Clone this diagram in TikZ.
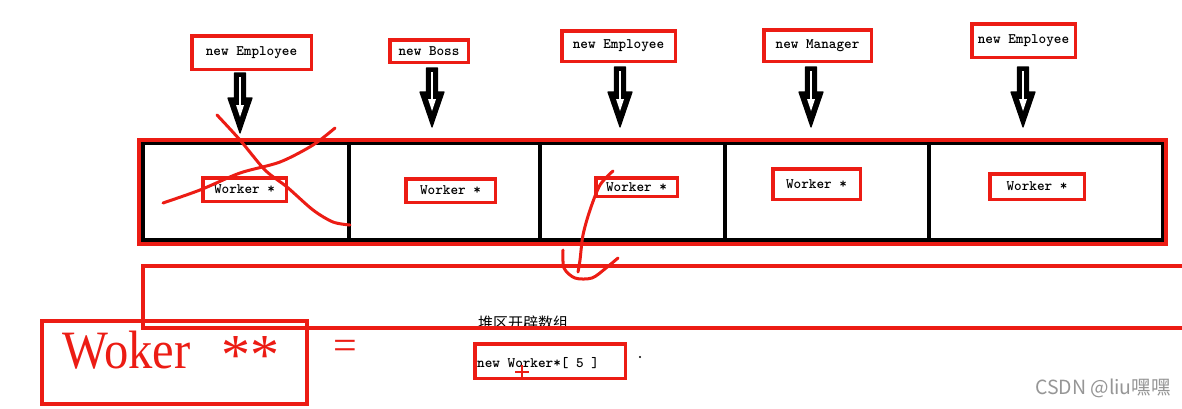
\documentclass[tikz,border=0pt]{standalone}
\usepackage{fontspec}
\setmainfont{Liberation Serif}
\newfontfamily\narrowserif[FakeStretch=0.9]{Liberation Serif}
\newfontfamily\cjkfont{Noto Sans CJK SC}
\usetikzlibrary{calc}
\definecolor{pred}{RGB}{236,28,20}
\definecolor{wmgray}{RGB}{150,150,150}
\newcommand\hollowarrow[2]{%
  \path[arrowbody] let \p1=(#1), \p2=(#2) in
    (\x1-5.5pt,\y1) -- (\x1+5.5pt,\y1) -- (\x1+5.5pt,\y2+35pt) -- (\x1+12pt,\y2+35pt)
    -- (\x1,\y2) -- (\x1-12pt,\y2+35pt) -- (\x1-5.5pt,\y2+35pt) -- cycle;
  \draw[white, line width=1.4pt] let \p1=(#1), \p2=(#2) in (\x1,\y1-4pt) -- (\x1,\y2+27pt);
  \fill[white] let \p1=(#1), \p2=(#2) in
    (\x1-4pt,\y2+28pt) -- (\x1+4pt,\y2+28pt) -- (\x1,\y2+16pt) -- cycle;
}
\begin{document}
\begin{tikzpicture}[x=1pt,y=-1pt,
  codefont/.style={font=\ttfamily\bfseries\fontsize{14.5}{16}\selectfont},
  redbox/.style={draw=pred, line width=3.5pt, inner sep=0pt, fill=white, codefont},
  freehand/.style={draw=pred, line width=3pt, line cap=round, line join=round},
  arrowbody/.style={fill=black, draw=black, line width=1.2pt, line join=round},
  cellline/.style={draw=black, line width=3.5pt}]
\useasboundingbox (0,0) rectangle (1182,408);
\fill[white] (0,0) rectangle (1182,408);

% array of pointers
\draw[cellline] (143,143.5) rectangle (1162.5,240);
\draw[cellline] (349,143) -- (349,240);
\draw[cellline] (540,143) -- (540,240);
\draw[cellline] (725,143) -- (725,240);
\draw[cellline] (929,143) -- (929,240);
\draw[draw=pred, line width=4pt] (138.5,139.5) rectangle (1166,244);

% top boxes
\node[redbox, minimum width=119.5pt, minimum height=33.5pt] (b1) at (251.5,52.5) {new Employee};
\node[redbox, minimum width=78.5pt, minimum height=22.5pt] (b2) at (429,51) {new Boss};
\node[redbox, minimum width=113.5pt, minimum height=30.5pt] (b3) at (618.5,46) {new Employee};
\node[redbox, minimum width=107.5pt, minimum height=31.5pt] (b4) at (817.5,45.5) {new Manager};
\node[redbox, minimum width=103.5pt, minimum height=33.5pt] (b5) at (1023.5,40.5) {new Employee};

% worker boxes
\node[redbox, minimum width=83.5pt, minimum height=23.5pt] (w1) at (244.5,189.5) {Worker *};
\node[redbox, minimum width=89.5pt, minimum height=23.5pt] (w2) at (450.5,190.5) {Worker *};
\node[redbox, minimum width=81.5pt, minimum height=18.5pt] (w3) at (636.5,187) {Worker *};
\node[redbox, minimum width=87.5pt, minimum height=30.5pt] (w4) at (816.5,184) {Worker *};
\node[redbox, minimum width=94.5pt, minimum height=25.5pt] (w5) at (1037,186.5) {Worker *};

% hollow arrows
\coordinate (a1s) at (240,73);  \coordinate (a1e) at (240,133);
\coordinate (a2s) at (432,68);  \coordinate (a2e) at (432,127);
\coordinate (a3s) at (620,67);  \coordinate (a3e) at (620,127);
\coordinate (a4s) at (811,67);  \coordinate (a4e) at (811,127);
\coordinate (a5s) at (1023,67); \coordinate (a5e) at (1023,127);
\hollowarrow{a1s}{a1e}
\hollowarrow{a2s}{a2e}
\hollowarrow{a3s}{a3e}
\hollowarrow{a4s}{a4e}
\hollowarrow{a5s}{a5e}

% heap label (under the red line)
\node[anchor=west, inner sep=0pt, font=\cjkfont\fontsize{15}{17}\selectfont] (heap) at (478,323) {堆区开辟数组};

% long red frame, open to the right
\draw[draw=pred, line width=4pt] (1190,266) -- (143,266) -- (143,328) -- (1190,328);

% freehand strokes
\draw[freehand] plot[smooth] coordinates {(217,115) (240,140) (265,170) (287,187) (313,210) (333,222) (350,225)};
\draw[freehand] plot[smooth] coordinates {(163,203) (200,190) (240,173) (280,162) (313,145) (335,128)};
\draw[freehand] plot[smooth] coordinates {(613,171) (600,185) (590,210) (583,235) (580,260) (578,272)};
\draw[freehand] plot[smooth] coordinates {(563,250) (564,268) (575,278) (592,278) (606,268) (618,258)};

% Woker ** box
\draw[draw=pred, line width=4pt] (42,321) rectangle (307,404);
\node[anchor=base west, inner sep=0pt, text=pred, font=\narrowserif\fontsize{54}{58}\selectfont] (wk) at (62,368) {Woker};
\node[anchor=base west, inner sep=0pt, text=pred, font=\fontsize{58}{62}\selectfont] (stars) at (221,374) {**};
\node[inner sep=0pt, text=pred, font=\fontsize{42}{46}\selectfont] (eq) at (345,350) {=};

% new Worker*[ 5 ]
\node[redbox, minimum width=150.5pt, minimum height=34.5pt] (nw) at (550,361) {};
\node[anchor=west, inner sep=0pt, codefont] (nwt) at (477,363) {new\ Worker*[\ 5\ ]};
\fill[black] (640,357) circle (1.2pt);
\draw[pred, line width=2pt] (515,372) -- (529,372);
\draw[pred, line width=2pt] (522,365) -- (522,380);

% watermark
\node[anchor=west, inner sep=0pt, text=wmgray, font=\cjkfont\fontsize{19.5}{21}\selectfont] (wm) at (1035,388) {CSDN @liu嘿嘿};
\end{tikzpicture}
\end{document}
